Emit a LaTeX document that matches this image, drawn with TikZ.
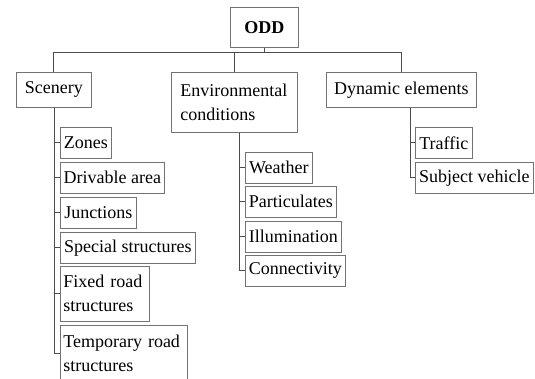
\documentclass[tikz,border=0pt]{standalone}
\usepackage{fontspec}
\setmainfont{Liberation Serif}
\tikzset{
  box/.style={draw=black!55, line width=0.6pt, inner xsep=3pt, inner ysep=0pt,
    anchor=north west, font=\fontsize{18}{24}\selectfont, text=black},
  topbox/.style={box, inner xsep=9pt},
  conn/.style={draw=black!70, line width=0.7pt},
}
\begin{document}
\begin{tikzpicture}[x=1pt,y=-1pt]
\clip (0,0) rectangle (535,379);
\fill[white] (0,0) rectangle (535,379);
% top level
\node[box, minimum width=68pt, minimum height=40pt, font=\fontsize{18}{24}\selectfont\bfseries] (odd) at (230,7) {ODD};
\node[box, minimum width=75pt, minimum height=35pt] (scen) at (16,72) {Scenery};
\node[topbox, text width=108pt, align=left, minimum height=60pt] (env) at (171,72) {Environmental\\conditions};
\node[box, minimum width=150pt, minimum height=35pt] (dyn) at (326,72) {Dynamic elements};
% scenery children
\node[box, minimum width=51pt, minimum height=31pt] (zones) at (60,127) {Zones};
\node[box, minimum width=104pt, minimum height=31pt] (driv) at (60,162) {Drivable area};
\node[box, minimum width=76pt, minimum height=31pt] (junc) at (60,197) {Junctions};
\node[box, minimum width=135pt, minimum height=31pt] (spec) at (60,232) {Special structures};
\node[box, text width=83pt, align=left, minimum height=55pt] (fixed) at (60,266) {Fixed road\\structures};
\node[box, text width=121pt, align=left, minimum height=56pt] (temp) at (60,325) {Temporary road\\structures};
% environmental children
\node[box, minimum width=67pt, minimum height=31pt] (weather) at (245,152) {Weather};
\node[box, minimum width=91pt, minimum height=31pt] (partic) at (245,186) {Particulates};
\node[box, minimum width=96pt, minimum height=31pt, inner xsep=2pt] (illum) at (245,221) {Illumination};
\node[box, minimum width=100pt, minimum height=31pt] (connec) at (245,255) {Connectivity};
% dynamic children
\node[box, minimum width=57pt, minimum height=31pt] (traffic) at (415,127) {Traffic};
\node[box, minimum width=118pt, minimum height=31pt] (subj) at (415,162) {Subject vehicle};
% top connectors
\draw[conn] (odd.south) -- ++(0,5) -| (scen.north);
\draw[conn] (odd.south) -- ++(0,5) -| (env.north);
\draw[conn] (odd.south) -- ++(0,5) -| (dyn.north);
% scenery connectors
\foreach \c in {zones,driv,junc,spec,fixed,temp}
  \draw[conn] ([xshift=0.5pt]scen.south) |- (\c.west);
% environmental connectors
\foreach \c in {weather,partic,illum,connec}
  \draw[conn] ([xshift=5pt]env.south) |- (\c.west);
% dynamic connectors
\foreach \c in {traffic,subj}
  \draw[conn] ([xshift=9pt]dyn.south) |- (\c.west);
\end{tikzpicture}
\end{document}
